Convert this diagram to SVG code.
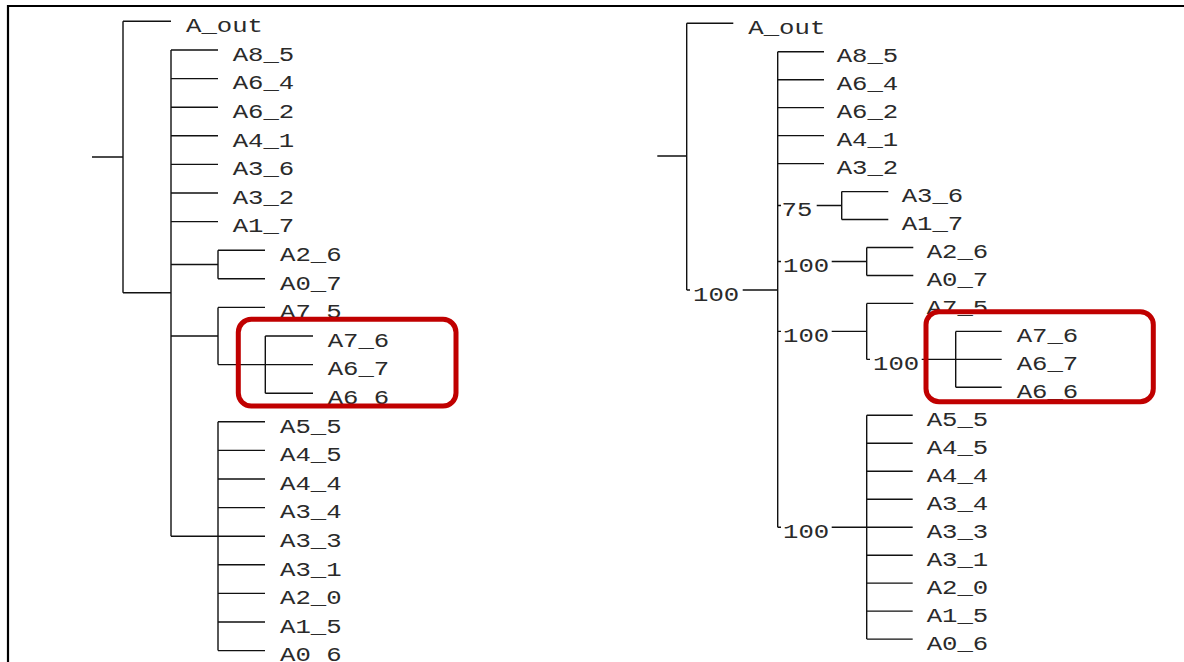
<svg xmlns="http://www.w3.org/2000/svg" width="1184" height="662" viewBox="0 0 1184 662">
<style>
.ln{stroke:#111;stroke-width:1.4;fill:none}
.fr{stroke:#000;stroke-width:2.2;fill:none}
.t{font-family:"Liberation Mono","DejaVu Sans Mono",monospace;font-size:21px;fill:#2a2a2a}
.box{fill:none;stroke:#c00000;stroke-width:5}
</style>
<rect x="0" y="0" width="1184" height="662" fill="#fff"/>
<path class="fr" d="M8 662 V6 H1184"/>
<g id="connectors">
<!-- left tree -->
<path class="ln" d="M92 157 H123 M123 21.3 V292.8 M123 21.3 H171 M123 292.8 H171 M171 50 V536.2
M171 50 H218 M171 78.6 H218 M171 107.2 H218 M171 135.8 H218 M171 164.4 H218 M171 193 H218 M171 221.6 H218
M171 264.5 H218 M218 250.2 V278.8 M218 250.2 H265 M218 278.8 H265
M171 336 H218 M218 307.4 V364.6 M218 307.4 H265 M218 364.6 H313
M265.3 336 V393.2 M265.3 336 H313 M265.3 393.2 H313
M171 536.2 H218 M218 421.8 V650.6
M218 421.8 H265 M218 450.4 H265 M218 479 H265 M218 507.6 H265 M218 536.2 H265 M218 564.8 H265 M218 593.4 H265 M218 622 H265 M218 650.6 H265"/>
<!-- right tree -->
<path class="ln" d="M657.3 156 H686.7 M686.7 23.3 V290 M686.7 23.3 H733.3 M686.7 290 H690 M742.7 290 H777.7 M777.7 51.7 V527.2
M777.7 51.7 H824 M777.7 79.7 H824 M777.7 107.6 H824 M777.7 135.6 H824 M777.7 163.6 H824
M777.7 205.5 H781 M816.7 205.5 H841.7 M841.7 191.6 V219.5 M841.7 191.6 H888.3 M841.7 219.5 H888.3
M777.7 261.5 H781 M831.7 261.5 H866.7 M866.7 247.5 V275.5 M866.7 247.5 H913.3 M866.7 275.5 H913.3
M777.7 331.4 H781 M831.7 331.4 H866.7 M866.7 303.4 V359.4 M866.7 303.4 H913.3 M866.7 359.4 H870
M921.7 359.4 H1001.7 M955.7 331.4 V387.3 M955.7 331.4 H1001.7 M955.7 387.3 H1001.7
M777.7 527.2 H781 M831.7 527.2 H866.7 M866.7 415.3 V639.1
M866.7 415.3 H912.7 M866.7 443.3 H912.7 M866.7 471.3 H912.7 M866.7 499.2 H912.7 M866.7 527.2 H912.7 M866.7 555.2 H912.7 M866.7 583.1 H912.7 M866.7 611.1 H912.7 M866.7 639.1 H912.7"/>
</g>
<g id="support-labels">
<text class="t" x="693" y="300.5" textLength="46.2" lengthAdjust="spacingAndGlyphs">100</text>
<text class="t" x="781.5" y="216" textLength="30.8" lengthAdjust="spacingAndGlyphs">75</text>
<text class="t" x="783" y="272" textLength="46.2" lengthAdjust="spacingAndGlyphs">100</text>
<text class="t" x="783" y="342" textLength="46.2" lengthAdjust="spacingAndGlyphs">100</text>
<text class="t" x="873" y="370" textLength="46.2" lengthAdjust="spacingAndGlyphs">100</text>
<text class="t" x="783" y="538" textLength="46.2" lengthAdjust="spacingAndGlyphs">100</text>
</g>
<g id="left-tree">
<g id="L_A_out"><text class="t" x="186" y="32" textLength="77" lengthAdjust="spacingAndGlyphs">A_out</text></g>
<g id="L_A8_5"><text class="t" x="232.7" y="60.7" textLength="61.6" lengthAdjust="spacingAndGlyphs">A8_5</text></g>
<g id="L_A6_4"><text class="t" x="232.7" y="89.3" textLength="61.6" lengthAdjust="spacingAndGlyphs">A6_4</text></g>
<g id="L_A6_2"><text class="t" x="232.7" y="117.9" textLength="61.6" lengthAdjust="spacingAndGlyphs">A6_2</text></g>
<g id="L_A4_1"><text class="t" x="232.7" y="146.5" textLength="61.6" lengthAdjust="spacingAndGlyphs">A4_1</text></g>
<g id="L_A3_6"><text class="t" x="232.7" y="175.1" textLength="61.6" lengthAdjust="spacingAndGlyphs">A3_6</text></g>
<g id="L_A3_2"><text class="t" x="232.7" y="203.7" textLength="61.6" lengthAdjust="spacingAndGlyphs">A3_2</text></g>
<g id="L_A1_7"><text class="t" x="232.7" y="232.3" textLength="61.6" lengthAdjust="spacingAndGlyphs">A1_7</text></g>
<g id="L_A2_6"><text class="t" x="280" y="260.9" textLength="61.6" lengthAdjust="spacingAndGlyphs">A2_6</text></g>
<g id="L_A0_7"><text class="t" x="280" y="289.5" textLength="61.6" lengthAdjust="spacingAndGlyphs">A0_7</text></g>
<g id="L_A7_5"><text class="t" x="280" y="318.1" textLength="61.6" lengthAdjust="spacingAndGlyphs">A7_5</text></g>
<g id="L_A7_6"><text class="t" x="327.7" y="346.7" textLength="61.6" lengthAdjust="spacingAndGlyphs">A7_6</text></g>
<g id="L_A6_7"><text class="t" x="327.7" y="375.3" textLength="61.6" lengthAdjust="spacingAndGlyphs">A6_7</text></g>
<g id="L_A6_6"><text class="t" x="327.7" y="403.9" textLength="61.6" lengthAdjust="spacingAndGlyphs">A6_6</text></g>
<g id="L_A5_5"><text class="t" x="280" y="432.5" textLength="61.6" lengthAdjust="spacingAndGlyphs">A5_5</text></g>
<g id="L_A4_5"><text class="t" x="280" y="461.1" textLength="61.6" lengthAdjust="spacingAndGlyphs">A4_5</text></g>
<g id="L_A4_4"><text class="t" x="280" y="489.7" textLength="61.6" lengthAdjust="spacingAndGlyphs">A4_4</text></g>
<g id="L_A3_4"><text class="t" x="280" y="518.3" textLength="61.6" lengthAdjust="spacingAndGlyphs">A3_4</text></g>
<g id="L_A3_3"><text class="t" x="280" y="546.9" textLength="61.6" lengthAdjust="spacingAndGlyphs">A3_3</text></g>
<g id="L_A3_1"><text class="t" x="280" y="575.5" textLength="61.6" lengthAdjust="spacingAndGlyphs">A3_1</text></g>
<g id="L_A2_0"><text class="t" x="280" y="604.1" textLength="61.6" lengthAdjust="spacingAndGlyphs">A2_0</text></g>
<g id="L_A1_5"><text class="t" x="280" y="632.7" textLength="61.6" lengthAdjust="spacingAndGlyphs">A1_5</text></g>
<g id="L_A0_6"><text class="t" x="280" y="661.3" textLength="61.6" lengthAdjust="spacingAndGlyphs">A0_6</text></g>
<rect id="L_highlight" class="box" x="238.3" y="319.3" width="217.7" height="86.7" rx="13"/>
</g>
<g id="right-tree">
<g id="R_A_out"><text class="t" x="748.3" y="34" textLength="77" lengthAdjust="spacingAndGlyphs">A_out</text></g>
<g id="R_A8_5"><text class="t" x="836.7" y="62.4" textLength="61.6" lengthAdjust="spacingAndGlyphs">A8_5</text></g>
<g id="R_A6_4"><text class="t" x="836.7" y="90.4" textLength="61.6" lengthAdjust="spacingAndGlyphs">A6_4</text></g>
<g id="R_A6_2"><text class="t" x="836.7" y="118.3" textLength="61.6" lengthAdjust="spacingAndGlyphs">A6_2</text></g>
<g id="R_A4_1"><text class="t" x="836.7" y="146.3" textLength="61.6" lengthAdjust="spacingAndGlyphs">A4_1</text></g>
<g id="R_A3_2"><text class="t" x="836.7" y="174.3" textLength="61.6" lengthAdjust="spacingAndGlyphs">A3_2</text></g>
<g id="R_A3_6"><text class="t" x="901.7" y="202.3" textLength="61.6" lengthAdjust="spacingAndGlyphs">A3_6</text></g>
<g id="R_A1_7"><text class="t" x="901.7" y="230.2" textLength="61.6" lengthAdjust="spacingAndGlyphs">A1_7</text></g>
<g id="R_A2_6"><text class="t" x="926.7" y="258.2" textLength="61.6" lengthAdjust="spacingAndGlyphs">A2_6</text></g>
<g id="R_A0_7"><text class="t" x="926.7" y="286.2" textLength="61.6" lengthAdjust="spacingAndGlyphs">A0_7</text></g>
<g id="R_A7_5"><text class="t" x="926.7" y="314.1" textLength="61.6" lengthAdjust="spacingAndGlyphs">A7_5</text></g>
<g id="R_A7_6"><text class="t" x="1016.7" y="342.1" textLength="61.6" lengthAdjust="spacingAndGlyphs">A7_6</text></g>
<g id="R_A6_7"><text class="t" x="1016.7" y="370.1" textLength="61.6" lengthAdjust="spacingAndGlyphs">A6_7</text></g>
<g id="R_A6_6"><text class="t" x="1016.7" y="398" textLength="61.6" lengthAdjust="spacingAndGlyphs">A6_6</text></g>
<g id="R_A5_5"><text class="t" x="926.7" y="426" textLength="61.6" lengthAdjust="spacingAndGlyphs">A5_5</text></g>
<g id="R_A4_5"><text class="t" x="926.7" y="454" textLength="61.6" lengthAdjust="spacingAndGlyphs">A4_5</text></g>
<g id="R_A4_4"><text class="t" x="926.7" y="482" textLength="61.6" lengthAdjust="spacingAndGlyphs">A4_4</text></g>
<g id="R_A3_4"><text class="t" x="926.7" y="509.9" textLength="61.6" lengthAdjust="spacingAndGlyphs">A3_4</text></g>
<g id="R_A3_3"><text class="t" x="926.7" y="537.9" textLength="61.6" lengthAdjust="spacingAndGlyphs">A3_3</text></g>
<g id="R_A3_1"><text class="t" x="926.7" y="565.9" textLength="61.6" lengthAdjust="spacingAndGlyphs">A3_1</text></g>
<g id="R_A2_0"><text class="t" x="926.7" y="593.8" textLength="61.6" lengthAdjust="spacingAndGlyphs">A2_0</text></g>
<g id="R_A1_5"><text class="t" x="926.7" y="621.8" textLength="61.6" lengthAdjust="spacingAndGlyphs">A1_5</text></g>
<g id="R_A0_6"><text class="t" x="926.7" y="649.8" textLength="61.6" lengthAdjust="spacingAndGlyphs">A0_6</text></g>
<rect id="R_highlight" class="box" x="926" y="311.7" width="227.3" height="90" rx="13"/>
</g>
</svg>
